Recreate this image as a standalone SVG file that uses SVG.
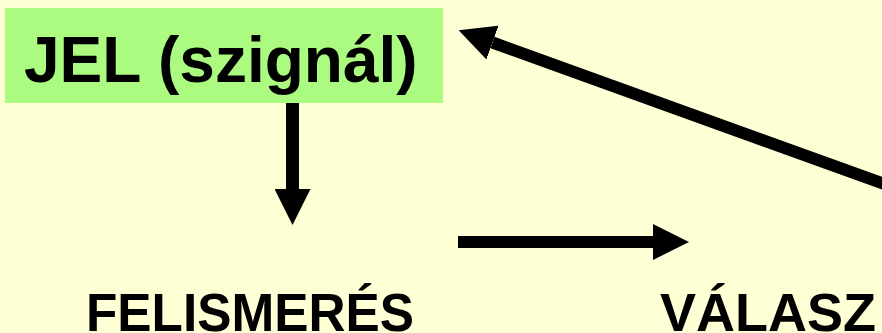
<svg xmlns="http://www.w3.org/2000/svg" width="882" height="333" viewBox="0 0 882 333">
  <style>
    .lbl { font-family: "Liberation Sans", Arial, sans-serif; font-weight: bold; fill: #000000; }
    .conn { stroke: #000000; stroke-width: 12; fill: none; marker-end: url(#head); }
  </style>
  <defs>
    <marker id="head" markerUnits="userSpaceOnUse" markerWidth="36" markerHeight="36" viewBox="0 0 36 36" refX="0" refY="18" orient="auto">
      <path d="M0,0 L36,18 L0,36 Z" fill="#000000"/>
    </marker>
  </defs>
  <rect x="0" y="0" width="882" height="333" fill="#FFFFD5"/>
  <g id="node-jel">
    <rect x="5" y="8" width="438" height="95" fill="#AAFB7F"/>
    <text class="lbl" x="24" y="82" font-size="64">JEL (szignál)</text>
  </g>
  <g id="node-felismeres">
    <text class="lbl" x="86" y="331" font-size="54" textLength="328" lengthAdjust="spacingAndGlyphs">FELISMERÉS</text>
  </g>
  <g id="node-valasz">
    <text class="lbl" x="660" y="331" font-size="54">VÁLASZ</text>
  </g>
  <g id="connectors">
    <line class="conn" x1="292.5" y1="103" x2="292.5" y2="189" style="stroke-width:13"/>
    <line class="conn" x1="458" y1="242" x2="653" y2="242"/>
    <line class="conn" x1="890" y1="186" x2="492.5" y2="42.5"/>
  </g>
</svg>
